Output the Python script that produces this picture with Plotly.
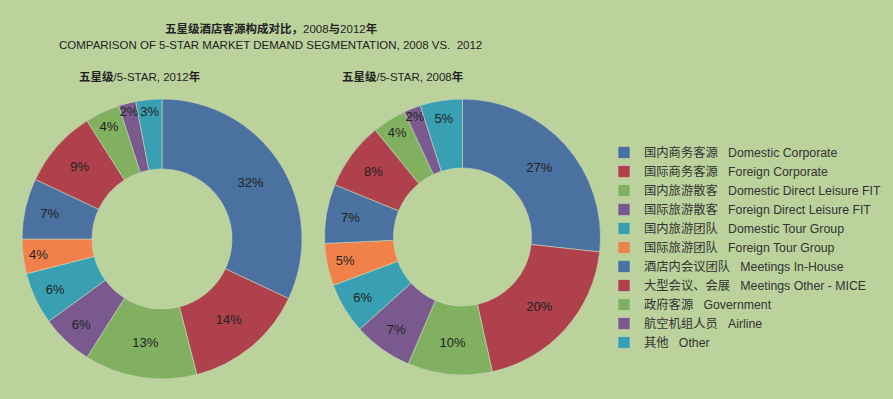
import plotly.graph_objects as go

labels = [
    "国内商务客源\u00a0\u00a0\u00a0Domestic Corporate",
    "国际商务客源\u00a0\u00a0\u00a0Foreign Corporate",
    "国内旅游散客\u00a0\u00a0\u00a0Domestic Direct Leisure FIT",
    "国际旅游散客\u00a0\u00a0\u00a0Foreign Direct Leisure FIT",
    "国内旅游团队\u00a0\u00a0\u00a0Domestic Tour Group",
    "国际旅游团队\u00a0\u00a0\u00a0Foreign Tour Group",
    "酒店内会议团队\u00a0\u00a0\u00a0Meetings In-House",
    "大型会议、会展\u00a0\u00a0\u00a0Meetings Other - MICE",
    "政府客源\u00a0\u00a0\u00a0Government",
    "航空机组人员\u00a0\u00a0\u00a0Airline",
    "其他\u00a0\u00a0\u00a0Other",
]
values_2012 = [32, 14, 13, 6, 6, 4, 7, 9, 4, 2, 3]
values_2008 = [27, 20, 10, 7, 6, 5, 7, 8, 4, 2, 5]
colors = ["#4a71a0", "#ae414b", "#80b060", "#7a5a8e", "#38a0b2", "#f0814a",
          "#4a71a0", "#ae414b", "#80b060", "#7a5a8e", "#38a0b2"]

BG = "#bcd29c"
FONT = "Liberation Sans, Arial, Noto Sans CJK SC, sans-serif"
W, H = 893, 399

def dom(cx, cy, r):
    return dict(x=[(cx - r) / W, (cx + r) / W], y=[1 - (cy + r) / H, 1 - (cy - r) / H])

fig = go.Figure()
for vals, d, show in [(values_2012, dom(162, 239, 140), True), (values_2008, dom(462.5, 237, 138), False)]:
    fig.add_trace(go.Pie(
        labels=labels, values=vals, sort=False, direction="clockwise", rotation=0,
        hole=0.5, domain=d,
        marker=dict(colors=colors, line=dict(color="#c8d8b8", width=0.6)),
        text=[f"{v}%" for v in vals], textinfo="text", textposition="inside",
        insidetextorientation="horizontal",
        textfont=dict(family=FONT, size=13, color="#222222"),
        hoverinfo="label+text", showlegend=show,
    ))

def ann(text, x, y, size=11.5):
    return dict(text=text, x=x / W, y=1 - y / H, xref="paper", yref="paper",
                xanchor="center", yanchor="middle", showarrow=False,
                font=dict(size=size, family=FONT, color="#222222"))

fig.update_layout(
    width=W, height=H, margin=dict(l=0, r=0, t=0, b=0),
    paper_bgcolor=BG, plot_bgcolor=BG,
    font=dict(family=FONT, color="#222222"),
    uniformtext=dict(minsize=13, mode="show"),
    legend=dict(x=604 / W, y=1 - 138 / H, xanchor="left", yanchor="top",
                font=dict(family=FONT, size=12.3, color="#333333"),
                itemwidth=30, bgcolor="rgba(0,0,0,0)", tracegroupgap=0),
    annotations=[
        ann("<b>五星级酒店客源构成对比，</b>2008<b>与</b>2012<b>年</b>", 271, 29),
        ann("COMPARISON OF 5-STAR MARKET DEMAND SEGMENTATION, 2008 VS.  2012", 270, 45),
        ann("<b>五星级</b>/5-STAR, 2012<b>年</b>", 140, 76),
        ann("<b>五星级</b>/5-STAR, 2008<b>年</b>", 403, 76),
    ],
)
fig.write_html("out.html", config={"displayModeBar": False},
               post_script="document.body.style.margin='0';document.body.style.overflow='hidden';")
